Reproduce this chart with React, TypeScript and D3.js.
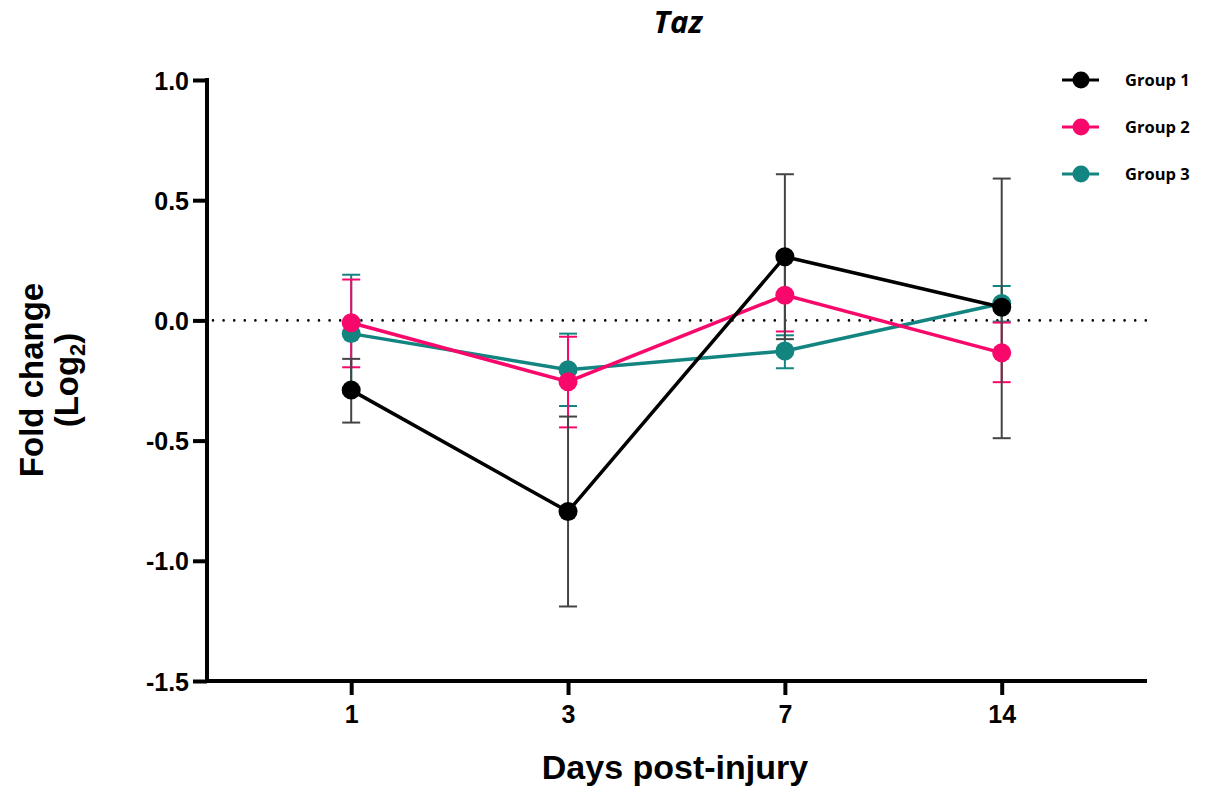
import { useEffect, useRef } from "react";
import * as d3 from "d3";

const days = ["1", "3", "7", "14"];
const yTicks = [1.0, 0.5, 0.0, -0.5, -1.0, -1.5];

const groupNames = ["Group 1", "Group 2", "Group 3"];
const groupColors = ["#000000", "#f7086a", "#138580"];
const errColors = ["#444444", "#f7086a", "#138580"];

// mean values per day
const group1 = [-0.29, -0.795, 0.265, 0.055];
const group2 = [-0.01, -0.255, 0.105, -0.135];
const group3 = [-0.055, -0.205, -0.127, 0.07];

// error bar [low, high]
const group1Err = [[-0.425, -0.16], [-1.19, -0.4], [-0.078, 0.608], [-0.49, 0.59]];
const group2Err = [[-0.195, 0.17], [-0.445, -0.068], [-0.046, 0.256], [-0.257, -0.009]];
const group3Err = [[-0.3, 0.19], [-0.356, -0.055], [-0.199, -0.062], [-0.005, 0.143]];

export default function App() {
  const svgRef = useRef<SVGSVGElement>(null);

  useEffect(() => {
    const svg = d3.select(svgRef.current);
    svg.selectAll("*").remove();

    const width = 1207;
    const height = 792;
    const left = 207;
    const right = 1147;
    const top = 80;
    const bottom = 681;

    const x = d3.scaleLinear().domain([-0.665, 3.67]).range([left, right]);
    const y = d3.scaleLinear().domain([-1.5, 1.0]).range([bottom, top]);

    const font = "'Liberation Sans', Arial, sans-serif";
    const fmt = (d: d3.NumberValue) => d3.format(".1f")(d).replace("−", "-");

    // title
    svg
      .append("text")
      .attr("x", 678)
      .attr("y", 33)
      .attr("text-anchor", "middle")
      .style("font-family", "'Open Sans', sans-serif")
      .style("font-style", "italic")
      .style("font-weight", 700)
      .style("font-size", "31px")
      .text("Taz");

    // zero line
    svg
      .append("line")
      .attr("x1", left + 6)
      .attr("x2", right)
      .attr("y1", y(0))
      .attr("y2", y(0))
      .attr("stroke", "#000")
      .attr("stroke-width", 2.6)
      .attr("stroke-linecap", "round")
      .attr("stroke-dasharray", "0 10.6");

    // y axis
    const yAxis = svg
      .append("g")
      .attr("transform", `translate(${left},0)`)
      .call(d3.axisLeft(y).tickValues(yTicks).tickSize(14).tickPadding(4).tickFormat(fmt));
    yAxis.select(".domain").attr("stroke-width", 4).attr("d", `M0,${top - 2}V${bottom + 2}`);
    yAxis.selectAll(".tick line").attr("stroke-width", 4);
    yAxis
      .selectAll(".tick text")
      .style("font-family", font)
      .style("font-weight", 700)
      .style("font-size", "25px")
      .attr("dy", "0.36em");

    // x axis
    const xAxis = svg
      .append("g")
      .attr("transform", `translate(0,${bottom})`)
      .call(
        d3
          .axisBottom(x)
          .tickValues([0, 1, 2, 3])
          .tickSize(14)
          .tickPadding(10)
          .tickFormat((d) => days[d as number])
      );
    xAxis.select(".domain").attr("stroke-width", 4).attr("d", `M${left - 2},0H${right}`);
    xAxis.selectAll(".tick line").attr("stroke-width", 4);
    xAxis
      .selectAll(".tick text")
      .style("font-family", font)
      .style("font-weight", 700)
      .style("font-size", "25px");

    // axis labels
    svg
      .append("text")
      .attr("x", 675)
      .attr("y", 779)
      .attr("text-anchor", "middle")
      .style("font-family", font)
      .style("font-weight", 700)
      .style("font-size", "34px")
      .text("Days post-injury");

    const yl = svg
      .append("text")
      .attr("transform", "translate(43,380) rotate(-90)")
      .attr("text-anchor", "middle")
      .style("font-family", font)
      .style("font-weight", 700)
      .style("font-size", "33px");
    yl.append("tspan").attr("x", 0).attr("y", 0).text("Fold change");
    const t2 = yl.append("tspan").attr("x", 0).attr("y", 35).text("(Log");
    t2.append("tspan").attr("dy", 7).style("font-size", "22px").text("2");
    t2.append("tspan").attr("dy", -7).text(")");

    const series = [group1, group2, group3];
    const errs = [group1Err, group2Err, group3Err];
    const line = d3
      .line<number>()
      .x((_, i) => x(i))
      .y((d) => y(d));

    // error bars first, back-to-front group 3 .. 1
    [2, 1, 0].forEach((g) => {
      const eg = svg.append("g");
      errs[g].forEach((e, i) => {
        const cx = x(i);
        eg.append("line")
          .attr("x1", cx)
          .attr("x2", cx)
          .attr("y1", y(e[0]))
          .attr("y2", y(e[1]))
          .attr("stroke", errColors[g])
          .attr("stroke-width", 2);
        [e[0], e[1]].forEach((v) => {
          eg.append("line")
            .attr("x1", cx - 9)
            .attr("x2", cx + 9)
            .attr("y1", y(v))
            .attr("y2", y(v))
            .attr("stroke", errColors[g])
            .attr("stroke-width", 2);
        });
      });
    });

    [2, 1, 0].forEach((g) => {
      svg
        .append("path")
        .datum(series[g])
        .attr("fill", "none")
        .attr("stroke", groupColors[g])
        .attr("stroke-width", 3.5)
        .attr("d", line);
      svg
        .append("g")
        .selectAll("circle")
        .data(series[g])
        .join("circle")
        .attr("cx", (_, i) => x(i))
        .attr("cy", (d) => y(d))
        .attr("r", 9.5)
        .attr("fill", groupColors[g]);
    });

    // legend
    groupNames.forEach((name, i) => {
      const ly = 80 + i * 47;
      const lg = svg.append("g");
      lg.append("line")
        .attr("x1", 1062)
        .attr("x2", 1099)
        .attr("y1", ly)
        .attr("y2", ly)
        .attr("stroke", groupColors[i])
        .attr("stroke-width", 3);
      lg.append("circle").attr("cx", 1081).attr("cy", ly).attr("r", 8.5).attr("fill", groupColors[i]);
      lg.append("text")
        .attr("x", 1125)
        .attr("y", ly)
        .attr("dy", "0.35em")
        .style("font-family", "'Open Sans', sans-serif")
        .style("font-weight", 700)
        .style("font-size", "16.5px")
        .text(name);
    });

    svg.attr("width", width).attr("height", height);
  }, []);

  return <svg ref={svgRef} style={{ position: "absolute", left: 0, top: 0 }} />;
}
